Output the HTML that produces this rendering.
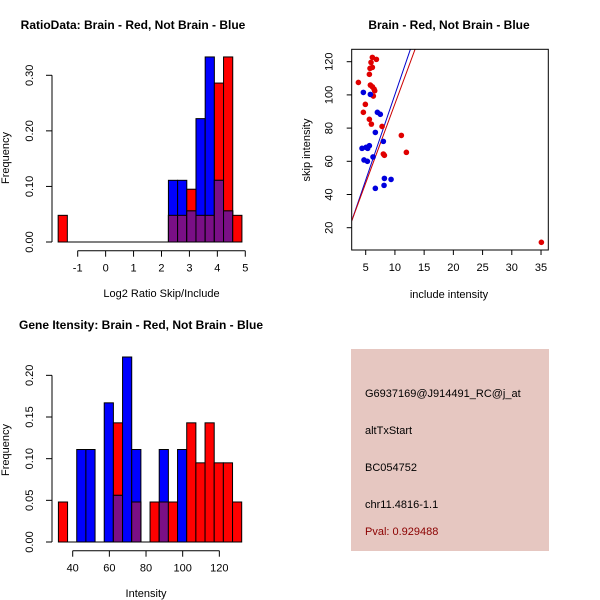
<!DOCTYPE html>
<html><head><meta charset="utf-8"><style>
html,body{margin:0;padding:0;background:#fff;}
svg{display:block;font-family:"Liberation Sans",sans-serif;}
</style></head><body>
<svg id="root" width="600" height="600" viewBox="0 0 600 600">
<rect x="0" y="0" width="600" height="600" fill="#fff"/>
<text x="133" y="29" font-size="12" font-weight="bold" text-anchor="middle">RatioData: Brain - Red, Not Brain - Blue</text>
<text x="449" y="29" font-size="12" font-weight="bold" text-anchor="middle">Brain - Red, Not Brain - Blue</text>
<text x="141" y="329" font-size="12" font-weight="bold" text-anchor="middle">Gene Itensity: Brain - Red, Not Brain - Blue</text>
<g id="p1"></g>
<g id="p2"></g>
<g id="p3"></g>
<g>
<rect x="351" y="349" width="198" height="202" fill="#e6c7c1"/>
<g font-size="11" fill="#000">
<text x="365" y="397">G6937169@J914491_RC@j_at</text>
<text x="365" y="434">altTxStart</text>
<text x="365" y="471">BC054752</text>
<text x="365" y="508">chr11.4816-1.1</text>
<text x="365" y="535" fill="#8b0000">Pval: 0.929488</text>
</g></g>
</svg>
<script>
// Ratio histogram data
const ratioBinStart = -1.70, ratioBinWidth = 0.329;
const ratioRed  = [0.048,0,0,0,0,0,0,0,0,0,0,0,0.048,0.048,0.095,0.048,0.048,0.286,0.333,0.048];
const ratioBlue = [0,0,0,0,0,0,0,0,0,0,0,0,0.111,0.111,0.056,0.222,0.333,0.111,0.056,0];
const ratioXTicks = [-1,0,1,2,3,4,5];
const ratioYTicks = [0,0.10,0.20,0.30];
// Intensity histogram data
const intBinStart = 32.2, intBinWidth = 5;
const intRed  = [0.048,0,0,0,0,0,0.143,0,0.048,0,0.048,0.048,0.048,0,0.143,0.095,0.143,0.095,0.095,0.048];
const intBlue = [0,0,0.111,0.111,0,0.167,0.056,0.222,0.111,0,0,0.111,0,0.111,0,0,0,0,0,0];
const intXTicks = [40,60,80,100,120];
const intYTicks = [0,0.05,0.10,0.15,0.20];
// Scatter data
const redX = [3.75,6.14,6.83,5.91,6.14,5.74,5.63,5.80,6.14,6.43,6.54,6.31,4.94,4.6,5.63,5.97,7.80,11.1,11.96,8.02,8.2,35.06];
const redY = [107.5,122.6,121.4,119.6,116.6,116,112.4,105.9,104.9,103.5,102.5,99.3,94.3,89.5,85.3,82.4,81.0,75.6,65.4,64.4,63.6,11.2];
const blueX = [4.6,5.8,7.0,7.5,6.65,8.02,4.37,5.06,5.34,5.63,6.25,4.71,5.29,8.2,9.34,8.14,6.65];
const blueY = [101.5,100.3,89.5,88.3,77.4,72.0,67.8,68.4,67.8,69.4,62.6,60.8,60.0,49.7,49.1,45.5,43.7];
const redLine = [-0.8, 9.54];   // intercept, slope
const blueLine = [-2.8, 10.3];
const scXTicks = [5,10,15,20,25,30,35];
const scYTicks = [20,40,60,80,100,120];

const NS="http://www.w3.org/2000/svg";
function mk(parent,tag,attrs){const e=document.createElementNS(NS,tag);for(const k in attrs)e.setAttribute(k,attrs[k]);parent.appendChild(e);return e;}

function hist(g,start,w,red,blue,sx,sy,xticks,yticks,xAxisY,yAxisX,xlab,xlabY,ylabY){
  for(let i=0;i<red.length;i++){
    const x0=sx(start+i*w), x1=sx(start+(i+1)*w);
    if(red[i]>0){const r=mk(g,'rect',{x:x0,y:sy(red[i]),width:x1-x0,height:sy(0)-sy(red[i]),fill:'#ff0000',stroke:'#000','stroke-width':1});
      
      }
    if(blue[i]>0){const b=mk(g,'rect',{x:x0,y:sy(blue[i]),width:x1-x0,height:sy(0)-sy(blue[i]),fill:'#0000ff',stroke:'#000','stroke-width':1});
      
      }
    const m=Math.min(red[i],blue[i]);
    if(m>0){const p=mk(g,'rect',{x:x0,y:sy(m),width:x1-x0,height:sy(0)-sy(m),fill:'#7a0f86',stroke:'#000','stroke-width':1});
      
      }
  }
  mk(g,'line',{x1:sx(start),x2:sx(start+red.length*w),y1:sy(0),y2:sy(0),stroke:'#000'});
  const xa=mk(g,'g',{});
  
  
  mk(xa,'line',{x1:sx(xticks[0]),x2:sx(xticks[xticks.length-1]),y1:xAxisY,y2:xAxisY,stroke:'#000'});
  xticks.forEach(t=>{mk(xa,'line',{x1:sx(t),x2:sx(t),y1:xAxisY,y2:xAxisY+6,stroke:'#000'});
    const tx=mk(xa,'text',{x:sx(t),y:xAxisY+21,'font-size':11,'text-anchor':'middle'});tx.textContent=t;});
  const xl=mk(g,'text',{x:sx((xticks[0]+xticks[xticks.length-1])/2),y:xlabY,'font-size':11,'text-anchor':'middle'});
  xl.textContent=xlab;
  
  
  const ya=mk(g,'g',{});
  
  
  mk(ya,'line',{x1:yAxisX,x2:yAxisX,y1:sy(yticks[0]),y2:sy(yticks[yticks.length-1]),stroke:'#000'});
  yticks.forEach(t=>{mk(ya,'line',{x1:yAxisX-6,x2:yAxisX,y1:sy(t),y2:sy(t),stroke:'#000'});
    const lx=yAxisX-19;
    const tx=mk(ya,'text',{x:lx,y:sy(t),'font-size':11,'text-anchor':'middle',transform:`rotate(-90 ${lx} ${sy(t)})`});tx.textContent=t.toFixed(2);});
  const yl=mk(g,'text',{x:9,y:ylabY,'font-size':11,'text-anchor':'middle',transform:`rotate(-90 9 ${ylabY})`});
  yl.textContent='Frequency';
  
  
}

{const sx=v=>77.7+(v+1)*27.93, sy=v=>242-v*555.7;
 hist(document.getElementById('p1'),ratioBinStart,ratioBinWidth,ratioRed,ratioBlue,sx,sy,ratioXTicks,ratioYTicks,250.7,52,'Log2 Ratio Skip/Include',297,158);}
{const sx=v=>72.7+(v-40)*1.833, sy=v=>542-v*833.3;
 hist(document.getElementById('p3'),intBinStart,intBinWidth,intRed,intBlue,sx,sy,intXTicks,intYTicks,550.7,52,'Intensity',597,450);}
{const g=document.getElementById('p2');
 const sx=v=>365.7+(v-5)*5.844, sy=v=>61.7+(120-v)*1.66;
 const L=351.7,R=548.3,T=49.3,B=250;
 const cp=mk(g,'clipPath',{id:'clipsc'});mk(cp,'rect',{x:L,y:T,width:R-L,height:B-T});
 const xmin=(L-365.7)/5.844+5, xmax=(R-365.7)/5.844+5;
 [[blueLine,'#0000cc','blue-fit-line'],[redLine,'#cc0000','red-fit-line']].forEach(([ab,c,n])=>{
   const l=mk(g,'line',{x1:sx(xmin),y1:sy(ab[0]+ab[1]*xmin),x2:sx(xmax),y2:sy(ab[0]+ab[1]*xmax),stroke:c,'stroke-width':1,'clip-path':'url(#clipsc)'});
   
   });
 redX.forEach((x,i)=>{const c=mk(g,'circle',{cx:sx(x),cy:sy(redY[i]),r:2.8,fill:'#e00000'});
   
   });
 blueX.forEach((x,i)=>{const c=mk(g,'circle',{cx:sx(x),cy:sy(blueY[i]),r:2.8,fill:'#0000dd'});
   
   });
 const box=mk(g,'rect',{x:L,y:T,width:R-L,height:B-T,fill:'none',stroke:'#000'});
 
 
 scXTicks.forEach(t=>{mk(g,'line',{x1:sx(t),x2:sx(t),y1:B,y2:B+5,stroke:'#000'});
   const tx=mk(g,'text',{x:sx(t),y:B+21,'font-size':11,'text-anchor':'middle'});tx.textContent=t;});
 scYTicks.forEach(t=>{mk(g,'line',{x1:L-5,x2:L,y1:sy(t),y2:sy(t),stroke:'#000'});
   const lx=L-19;
   const tx=mk(g,'text',{x:lx,y:sy(t),'font-size':11,'text-anchor':'middle',transform:`rotate(-90 ${lx} ${sy(t)})`});tx.textContent=t;});
 const xl=mk(g,'text',{x:449,y:298,'font-size':11,'text-anchor':'middle'});xl.textContent='include intensity';
 
 
 const yl=mk(g,'text',{x:310,y:150,'font-size':11,'text-anchor':'middle',transform:'rotate(-90 310 150)'});yl.textContent='skip intensity';
 
 
}
</script>
</body></html>
